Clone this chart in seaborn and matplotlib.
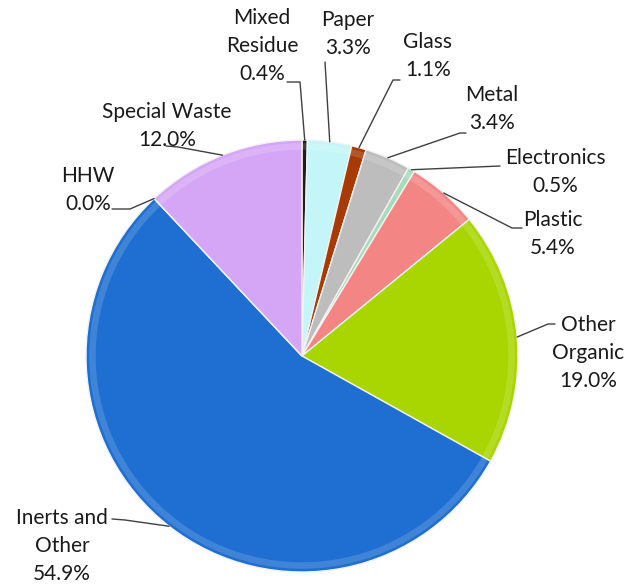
import numpy as np
import matplotlib
matplotlib.use('Agg')
import matplotlib.pyplot as plt
import seaborn as sns

# composition data, clockwise from 12 o'clock
categories = ['Mixed\nResidue', 'Paper', 'Glass', 'Metal', 'Electronics', 'Plastic',
              'Other\nOrganic', 'Inerts and\nOther', 'HHW', 'Special Waste']
shares = [0.4, 3.3, 1.1, 3.4, 0.5, 5.4, 19.0, 54.9, 0.0, 12.0]
colors = ['#1c1c1c', '#c4f6f9', '#a83a06', '#bdbdbd', '#a6dcbc', '#f48585',
          '#a9d600', '#1f6fd2', '#6a4fa0', '#d6a6f6']

# label layout (image pixel coords): text centre, leader knee, leader tail
label_pos = [(262, 46), (348, 34), (428, 56), (492, 109), (555, 172), (553, 234),
             (588, 353), (62, 546), (88, 190), (167, 126)]
knees = [(300, 82), (325, 62), (393, 80), (460, 133), (500, 166), (512, 228),
         (548, 324), (125, 520), (130, 209), (178, 147)]
tails = [(287, 82), (325, 62), (400, 80), (466, 133), (500, 166), (522, 228),
         (555, 324), (112, 519), (112, 209), (166, 146)]

W, H = 638, 586
cx, cy, r = 302, 356, 216

sns.set_theme(style='white')
plt.rcParams['font.family'] = ['Lato', 'DejaVu Sans']

fig = plt.figure(figsize=(W / 100, H / 100), dpi=100)
ax = fig.add_axes([0, 0, 1, 1])

wedges, _ = ax.pie(shares, colors=colors, startangle=90, counterclock=False,
                   center=(cx, H - cy), radius=r,
                   wedgeprops=dict(edgecolor='#f2f2f2', linewidth=1.0))
# soft rim highlight to hint at the bevelled look
ax.pie(shares, colors=['white'] * len(shares), startangle=90, counterclock=False,
       center=(cx, H - cy), radius=r * 0.985,
       wedgeprops=dict(width=r * 0.03, alpha=0.15, linewidth=0))
ax.set_xlim(0, W)
ax.set_ylim(0, H)
ax.set_aspect('equal')
ax.axis('off')

total = sum(shares)
start = 0.0
for i, (name, val) in enumerate(zip(categories, shares)):
    mid = (start + val / 2) / total * 2 * np.pi
    start += val
    px = cx + r * np.sin(mid)
    py = cy - r * np.cos(mid)
    xs = [px, knees[i][0], tails[i][0]]
    ys = [H - py, H - knees[i][1], H - tails[i][1]]
    ax.plot(xs, ys, color='#404040', lw=1.0)
    tx, ty = label_pos[i]
    ax.text(tx, H - ty, f'{name}\n{val:.1f}%', ha='center', va='center',
            fontsize=15, color='#1a1a1a', linespacing=1.5)

fig.savefig('out.png', dpi=100, facecolor='white')
